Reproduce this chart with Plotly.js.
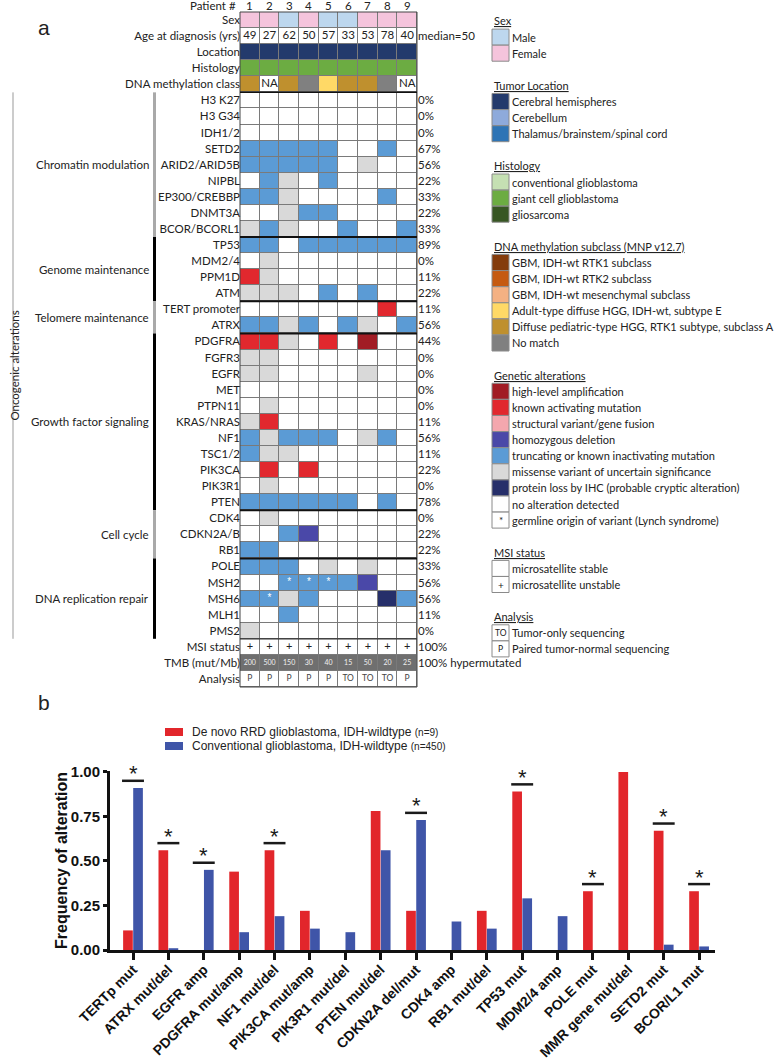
<!DOCTYPE html>
<html><head><meta charset="utf-8">
<script src="https://cdn.plot.ly/plotly-3.0.1.min.js"></script>
<style>html,body{margin:0;padding:0;background:#fff}#chart{width:776px;height:1062px}</style>
</head><body><div id="chart"></div>
<script>
// ================= Panel a data =================
const patients = [1, 2, 3, 4, 5, 6, 7, 8, 9];
const sex = ['Female','Female','Male','Female','Male','Male','Female','Female','Female'];
const ageAtDiagnosis = [49, 27, 62, 50, 57, 33, 53, 78, 40];
const ageMedianLabel = 'median=50';
const tumorLocation = ['Cerebral','Cerebral','Cerebral','Cerebral','Cerebral','Cerebral','Cerebral','Cerebral','Cerebral'];
const histology = ['GiantCell','GiantCell','GiantCell','GiantCell','GiantCell','GiantCell','GiantCell','GiantCell','GiantCell'];
const methylationClass = ['PedRTK1A','NA','PedRTK1A','NoMatch','AdultE','PedRTK1A','PedRTK1A','NoMatch','NA'];

const genes = ['H3 K27','H3 G34','IDH1/2','SETD2','ARID2/ARID5B','NIPBL','EP300/CREBBP','DNMT3A','BCOR/BCORL1',
  'TP53','MDM2/4','PPM1D','ATM',
  'TERT promoter','ATRX',
  'PDGFRA','FGFR3','EGFR','MET','PTPN11','KRAS/NRAS','NF1','TSC1/2','PIK3CA','PIK3R1','PTEN',
  'CDK4','CDKN2A/B','RB1',
  'POLE','MSH2','MSH6','MLH1','PMS2'];
// codes: . none, A high-level amp, M activating mut, S structural, D hom. deletion, T truncating, V VUS, L protein loss (IHC)
const alterations = [
  '.........','.........','.........','TTTTT..T.','TTTTT.V..','.TV.T....','TTV....T.','..VTT....','VTV..T..T',
  'TT.TTTTTT','.V.......','MV.......','VVV.T.T..',
  '.......M.','TTVT.TV.T',
  'MMV.M.A..','VV.......','VV....V..','.........','.V.......','VM.......','TVTTT.VT.','TVV......','.M.M.....','.V.......','TTTTTT.T.',
  '.V.......','..TD.....','TT.......',
  'TTT.V.V..','..TTTTD..','TTVT...LT','..T......','V........'];
const alteredPercent = ['0%','0%','0%','67%','56%','22%','33%','22%','33%',
  '89%','0%','11%','22%','11%','56%',
  '44%','0%','0%','0%','0%','11%','56%','11%','22%','0%','78%',
  '0%','22%','22%','33%','56%','56%','11%','0%'];
const germlineGene = ['MSH2','MSH2','MSH2','MSH6'];
const germlinePatient = [3, 4, 5, 2];
const groupNames = ['Chromatin modulation','Genome maintenance','Telomere maintenance','Growth factor signaling','Cell cycle','DNA replication repair'];
const groupSizes = [9, 4, 2, 11, 3, 5];
const msiStatus = ['+','+','+','+','+','+','+','+','+'];
const msiLabel = '100%';
const tmb = [200, 500, 150, 30, 40, 15, 50, 20, 25];
const tmbLabel = '100% hypermutated';
const analysis = ['P','P','P','P','P','TO','TO','TO','P'];

// ================= Panel b data =================
const categories = ['TERTp mut','ATRX mut/del','EGFR amp','PDGFRA mut/amp','NF1 mut/del','PIK3CA mut/amp','PIK3R1 mut/del',
  'PTEN mut/del','CDKN2A del/mut','CDK4 amp','RB1 mut/del','TP53 mut','MDM2/4 amp','POLE mut','MMR gene mut/del','SETD2 mut','BCOR/L1 mut'];
const rrdFreq  = [0.11, 0.56, 0.00, 0.44, 0.56, 0.22, 0.00, 0.78, 0.22, 0.00, 0.22, 0.89, 0.00, 0.33, 1.00, 0.67, 0.33];
const convFreq = [0.91, 0.01, 0.45, 0.10, 0.19, 0.12, 0.10, 0.56, 0.73, 0.16, 0.12, 0.29, 0.19, 0.00, 0.00, 0.03, 0.02];
const significant = ['TERTp mut','ATRX mut/del','EGFR amp','NF1 mut/del','CDKN2A del/mut','TP53 mut','POLE mut','SETD2 mut','BCOR/L1 mut'];
const seriesNames = ['De novo RRD glioblastoma, IDH-wildtype', 'Conventional glioblastoma, IDH-wildtype'];
const seriesN = ['(n=9)', '(n=450)'];

// ================= styles =================
const W = 776, H = 1062;
const px = v => v / W, py = v => 1 - v / H;
const FA = 'Lato, Carlito, Calibri, sans-serif';
const FB = 'Liberation Sans, Arial, sans-serif';
const cellColor = {
  'Female':'#f5c4dc','Male':'#bdd7ee',
  'Cerebral':'#233a6c','Cerebellum':'#8eaadb','Thalamus':'#2e74b5',
  'Conventional':'#c5e0b3','GiantCell':'#6cac42','Gliosarcoma':'#375623',
  'RTK1':'#843c0c','RTK2':'#c55a11','MES':'#f4b183','AdultE':'#ffd966','PedRTK1A':'#bf902e','NoMatch':'#808080','NA':'#ffffff',
  '.':'#ffffff','A':'#a11c24','M':'#e1282e','S':'#f4a7ae','D':'#4a48a8','T':'#5b9bd5','V':'#d9d9d9','L':'#262f6a',
  'blank':'#ffffff','TMB':'#6f6f6f'
};
const RED = '#e2262b', BLUE = '#3f55a8';

// ================= build heatmap =================
const rowLabels = ['Sex','Age at diagnosis (yrs)','Location','Histology','DNA methylation class']
  .concat(genes).concat(['MSI status','TMB (mut/Mb)','Analysis']);
const rowCodes = [sex, patients.map(() => 'blank'), tumorLocation, histology, methylationClass]
  .concat(alterations.map(s => s.split('')))
  .concat([patients.map(() => 'blank'), patients.map(() => 'TMB'), patients.map(() => 'blank')]);
const palette = Object.keys(cellColor);
const N = palette.length;
const colorscale = [];
palette.forEach((k, i) => { colorscale.push([i / N, cellColor[k]]); colorscale.push([(i + 1) / N, cellColor[k]]); });
const z = rowCodes.map(r => r.map(c => palette.indexOf(c) + 0.5));
const rowIdx = rowLabels.map((_, i) => i);
const rightLabels = ['', ageMedianLabel, '', '', ''].concat(alteredPercent).concat([msiLabel, tmbLabel, '']);
const nRows = rowLabels.length;

const traces = [];
traces.push({type:'heatmap', x:patients, y:rowIdx, z:z, zmin:0, zmax:N, colorscale:colorscale,
  showscale:false, xgap:1, ygap:1, hoverinfo:'skip', xaxis:'x', yaxis:'y'});

function textRow(row, xs, texts, font) {
  const r = rowLabels.indexOf(row);
  return {type:'scatter', mode:'text', x:xs, y:xs.map(() => r), text:texts, textfont:font,
    hoverinfo:'skip', showlegend:false, xaxis:'x', yaxis:'y', cliponaxis:false};
}
traces.push(textRow('Age at diagnosis (yrs)', patients, ageAtDiagnosis.map(String), {family:FA, size:11.5, color:'#222'}));
const naX = patients.filter((p, i) => methylationClass[i] === 'NA');
traces.push(textRow('DNA methylation class', naX, naX.map(() => 'NA'), {family:FA, size:11.5, color:'#222'}));
traces.push(textRow('MSI status', patients, msiStatus, {family:FA, size:11, color:'#222'}));
traces.push(textRow('TMB (mut/Mb)', patients, tmb.map(String), {family:FA, size:7, color:'#f0f0f0'}));
traces.push(textRow('Analysis', patients, analysis, {family:FA, size:8.5, color:'#444'}));
traces.push({type:'scatter', mode:'text', x:germlinePatient, y:germlineGene.map(g => rowLabels.indexOf(g)),
  text:germlineGene.map(() => '*'), textfont:{family:FB, size:10, color:'#ffffff'}, hoverinfo:'skip',
  showlegend:false, xaxis:'x', yaxis:'y'});
// invisible anchor for right-side label axis
traces.push({type:'scatter', mode:'markers', x:[patients[0]], y:[0], marker:{opacity:0}, hoverinfo:'skip', showlegend:false, xaxis:'x', yaxis:'y3'});

// ================= Panel b bars =================
traces.push({type:'bar', x:categories, y:rrdFreq, name:seriesNames[0], marker:{color:RED}, xaxis:'x2', yaxis:'y2', showlegend:false, hoverinfo:'x+y'});
traces.push({type:'bar', x:categories, y:convFreq, name:seriesNames[1], marker:{color:BLUE}, xaxis:'x2', yaxis:'y2', showlegend:false, hoverinfo:'x+y'});

const shapes = [], annotations = [];
// heatmap background (grid colour) and border
shapes.push({type:'rect', xref:'x domain', yref:'y domain', x0:0, x1:1, y0:0, y1:1, fillcolor:'#7a7a7a', line:{width:0}, layer:'below'});
shapes.push({type:'rect', xref:'x domain', yref:'y domain', x0:0, x1:1, y0:0, y1:1, line:{color:'#444', width:1}});
// thick group boundary lines
const firstGene = 5;
let acc = firstGene;
const groupBounds = [];
groupSizes.forEach((s, g) => { groupBounds.push([acc, acc + s - 1]); acc += s; });
shapes.push({type:'line', xref:'x domain', yref:'y', x0:0, x1:1, y0:firstGene - 0.5, y1:firstGene - 0.5, line:{color:'#111', width:1.5}});
groupBounds.forEach(([a, b], g) => {
  if (g > 0) shapes.push({type:'line', xref:'x domain', yref:'y', x0:0, x1:1, y0:a - 0.5, y1:a - 0.5, line:{color:'#111', width:2}});
  shapes.push({type:'line', xref:'paper', yref:'y', x0:px(154.5), x1:px(154.5), y0:a - 0.5, y1:b + 0.5,
    line:{color: g % 2 === 0 ? '#a9a9a9' : '#000', width:3}});
  annotations.push({xref:'paper', yref:'y', x:px(151), y:(a + b) / 2, xanchor:'right', yanchor:'middle',
    text:groupNames[g], showarrow:false, font:{family:FA, size:11.5, color:'#222'}});
});
shapes.push({type:'line', xref:'x domain', yref:'y', x0:0, x1:1, y0:acc - 0.5, y1:acc - 0.5, line:{color:'#333', width:1.2}});
// Oncogenic alterations bracket
shapes.push({type:'line', xref:'paper', yref:'y', x0:px(13), x1:px(13), y0:firstGene - 0.5, y1:acc - 0.5, line:{color:'#999', width:1}});
annotations.push({xref:'paper', yref:'y', x:px(6.5), y:(firstGene + acc - 1) / 2, textangle:-90, text:'Oncogenic alterations',
  showarrow:false, font:{family:FA, size:11.5, color:'#222'}});
// Patient # header
annotations.push({xref:'paper', yref:'paper', x:px(238), y:py(5.5), xanchor:'right', yanchor:'middle', text:'Patient #',
  showarrow:false, font:{family:FA, size:11.5, color:'#222'}});
patients.forEach(p => annotations.push({xref:'x', yref:'paper', x:p, y:py(5.5), yanchor:'middle', text:String(p),
  showarrow:false, font:{family:FA, size:11.5, color:'#222'}}));
// panel letters
annotations.push({xref:'paper', yref:'paper', x:px(36), y:py(14), text:'a', showarrow:false, font:{family:FB, size:21, color:'#222'}});
annotations.push({xref:'paper', yref:'paper', x:px(36), y:py(716), text:'b', showarrow:false, font:{family:FB, size:21, color:'#222'}});

// ================= Panel a legend =================
const legendSections = [
  ['Sex', [['#bdd7ee','Male'],['#f5c4dc','Female']]],
  ['Tumor Location', [['#233a6c','Cerebral hemispheres'],['#8eaadb','Cerebellum'],['#2e74b5','Thalamus/brainstem/spinal cord']]],
  ['Histology', [['#c5e0b3','conventional glioblastoma'],['#6cac42','giant cell glioblastoma'],['#375623','gliosarcoma']]],
  ['DNA methylation subclass (MNP v12.7)', [['#843c0c','GBM, IDH-wt RTK1 subclass'],['#c55a11','GBM, IDH-wt RTK2 subclass'],
    ['#f4b183','GBM, IDH-wt mesenchymal subclass'],['#ffd966','Adult-type diffuse HGG, IDH-wt, subtype E'],
    ['#bf902e','Diffuse pediatric-type HGG, RTK1 subtype, subclass A'],['#808080','No match']]],
  ['Genetic alterations', [['#a11c24','high-level amplification'],['#e1282e','known activating mutation'],['#f4a7ae','structural variant/gene fusion'],
    ['#4a48a8','homozygous deletion'],['#5b9bd5','truncating or known inactivating mutation'],['#d9d9d9','missense variant of uncertain significance'],
    ['#262f6a','protein loss by IHC (probable cryptic alteration)'],['#ffffff','no alteration detected'],['#ffffff','germline origin of variant (Lynch syndrome)','*']]],
  ['MSI status', [['#ffffff','microsatellite stable'],['#ffffff','microsatellite unstable','+']]],
  ['Analysis', [['#ffffff','Tumor-only sequencing','TO'],['#ffffff','Paired tumor-normal sequencing','P']]]
];
let k = 0;
const lineY = kk => 21 + 16.1 * kk;
legendSections.forEach(([title, items]) => {
  annotations.push({xref:'paper', yref:'paper', x:px(492), y:py(lineY(k)), xanchor:'left', yanchor:'middle',
    text:'<u>' + title + '</u>', showarrow:false, font:{family:FA, size:11, color:'#222'}});
  k++;
  items.forEach(([c, label, sym]) => {
    const yc = lineY(k);
    shapes.push({type:'rect', xref:'paper', yref:'paper', x0:px(492), x1:px(509), y0:py(yc - 8), y1:py(yc + 8),
      fillcolor:c, line:{color:'#8a8a8a', width:1}});
    if (sym) annotations.push({xref:'paper', yref:'paper', x:px(500.5), y:py(yc), text:sym, showarrow:false,
      font:{family:FA, size: sym === 'TO' || sym === 'P' ? 8.5 : 10, color:'#222'}});
    annotations.push({xref:'paper', yref:'paper', x:px(510), y:py(yc), xanchor:'left', yanchor:'middle',
      text:label, showarrow:false, font:{family:FA, size:11, color:'#222'}});
    k++;
  });
  k++;
});

// ================= Panel b significance + legend =================
significant.forEach(c => {
  const i = categories.indexOf(c);
  const top = Math.max(rrdFreq[i], convFreq[i]) + 0.04;
  shapes.push({type:'line', xref:'x2', yref:'y2', x0:i - 0.31, x1:i + 0.31, y0:top, y1:top, line:{color:'#1a1a1a', width:2.5}});
  annotations.push({xref:'x2', yref:'y2', x:i, y:top, yanchor:'middle', yshift:7, text:'*', showarrow:false,
    font:{family:FB, size:22, color:'#1a1a1a'}});
});
[RED, BLUE].forEach((c, s) => {
  const yc = 732 + 14 * s;
  shapes.push({type:'rect', xref:'paper', yref:'paper', x0:px(165), x1:px(183), y0:py(yc - 4), y1:py(yc + 4), fillcolor:c, line:{width:0}});
  annotations.push({xref:'paper', yref:'paper', x:px(190), y:py(yc), xanchor:'left', yanchor:'middle', showarrow:false,
    text:seriesNames[s] + ' <span style="font-size:10px">' + seriesN[s] + '</span>', font:{family:FB, size:12, color:'#222'}});
});

const layout = {
  width:W, height:H, margin:{l:0, r:0, t:0, b:0}, paper_bgcolor:'#fff', plot_bgcolor:'rgba(0,0,0,0)',
  showlegend:false, barmode:'group', bargap:0.43, bargroupgap:0.04,
  xaxis:{domain:[px(240), px(417)], range:[0.5, 9.5], anchor:'y', showticklabels:false, ticks:'', showgrid:false, zeroline:false, fixedrange:true},
  yaxis:{domain:[py(687), py(12)], range:[nRows - 0.5, -0.5], anchor:'x', tickvals:rowIdx, ticktext:rowLabels, ticks:'',
    tickfont:{family:FA, size:11.5, color:'#222'}, showgrid:false, zeroline:false, ticklabelstandoff:-1, fixedrange:true},
  yaxis3:{overlaying:'y', side:'right', anchor:'x', range:[nRows - 0.5, -0.5], tickvals:rowIdx, ticktext:rightLabels, ticks:'',
    tickfont:{family:FA, size:11.5, color:'#222'}, showgrid:false, zeroline:false, fixedrange:true},
  xaxis2:{domain:[px(110), px(715)], anchor:'y2', type:'category', range:[-0.65, categories.length - 0.55],
    tickangle:-45, tickfont:{family:FB, size:14, color:'#111', weight:'bold'}, ticks:'outside', ticklen:7, tickwidth:3, tickcolor:'#111',
    ticklabelstandoff:-4, showline:true, linewidth:3, linecolor:'#111', showgrid:false, zeroline:false},
  yaxis2:{domain:[py(950), py(771)], anchor:'x2', range:[0, 1.005], tickvals:[0, 0.25, 0.5, 0.75, 1], ticktext:['0.00','0.25','0.50','0.75','1.00'],
    tickfont:{family:FB, size:15, color:'#111', weight:'bold'}, ticks:'outside', ticklen:4, tickwidth:3, tickcolor:'#111',
    showline:true, linewidth:3, linecolor:'#111', showgrid:false, zeroline:false,
    title:{text:'Frequency of alteration', font:{family:FB, size:16, color:'#111', weight:'bold'}, standoff:0}},
  shapes:shapes, annotations:annotations
};
Plotly.newPlot('chart', traces, layout, {staticPlot:true, displayModeBar:false});
</script>
</body></html>
